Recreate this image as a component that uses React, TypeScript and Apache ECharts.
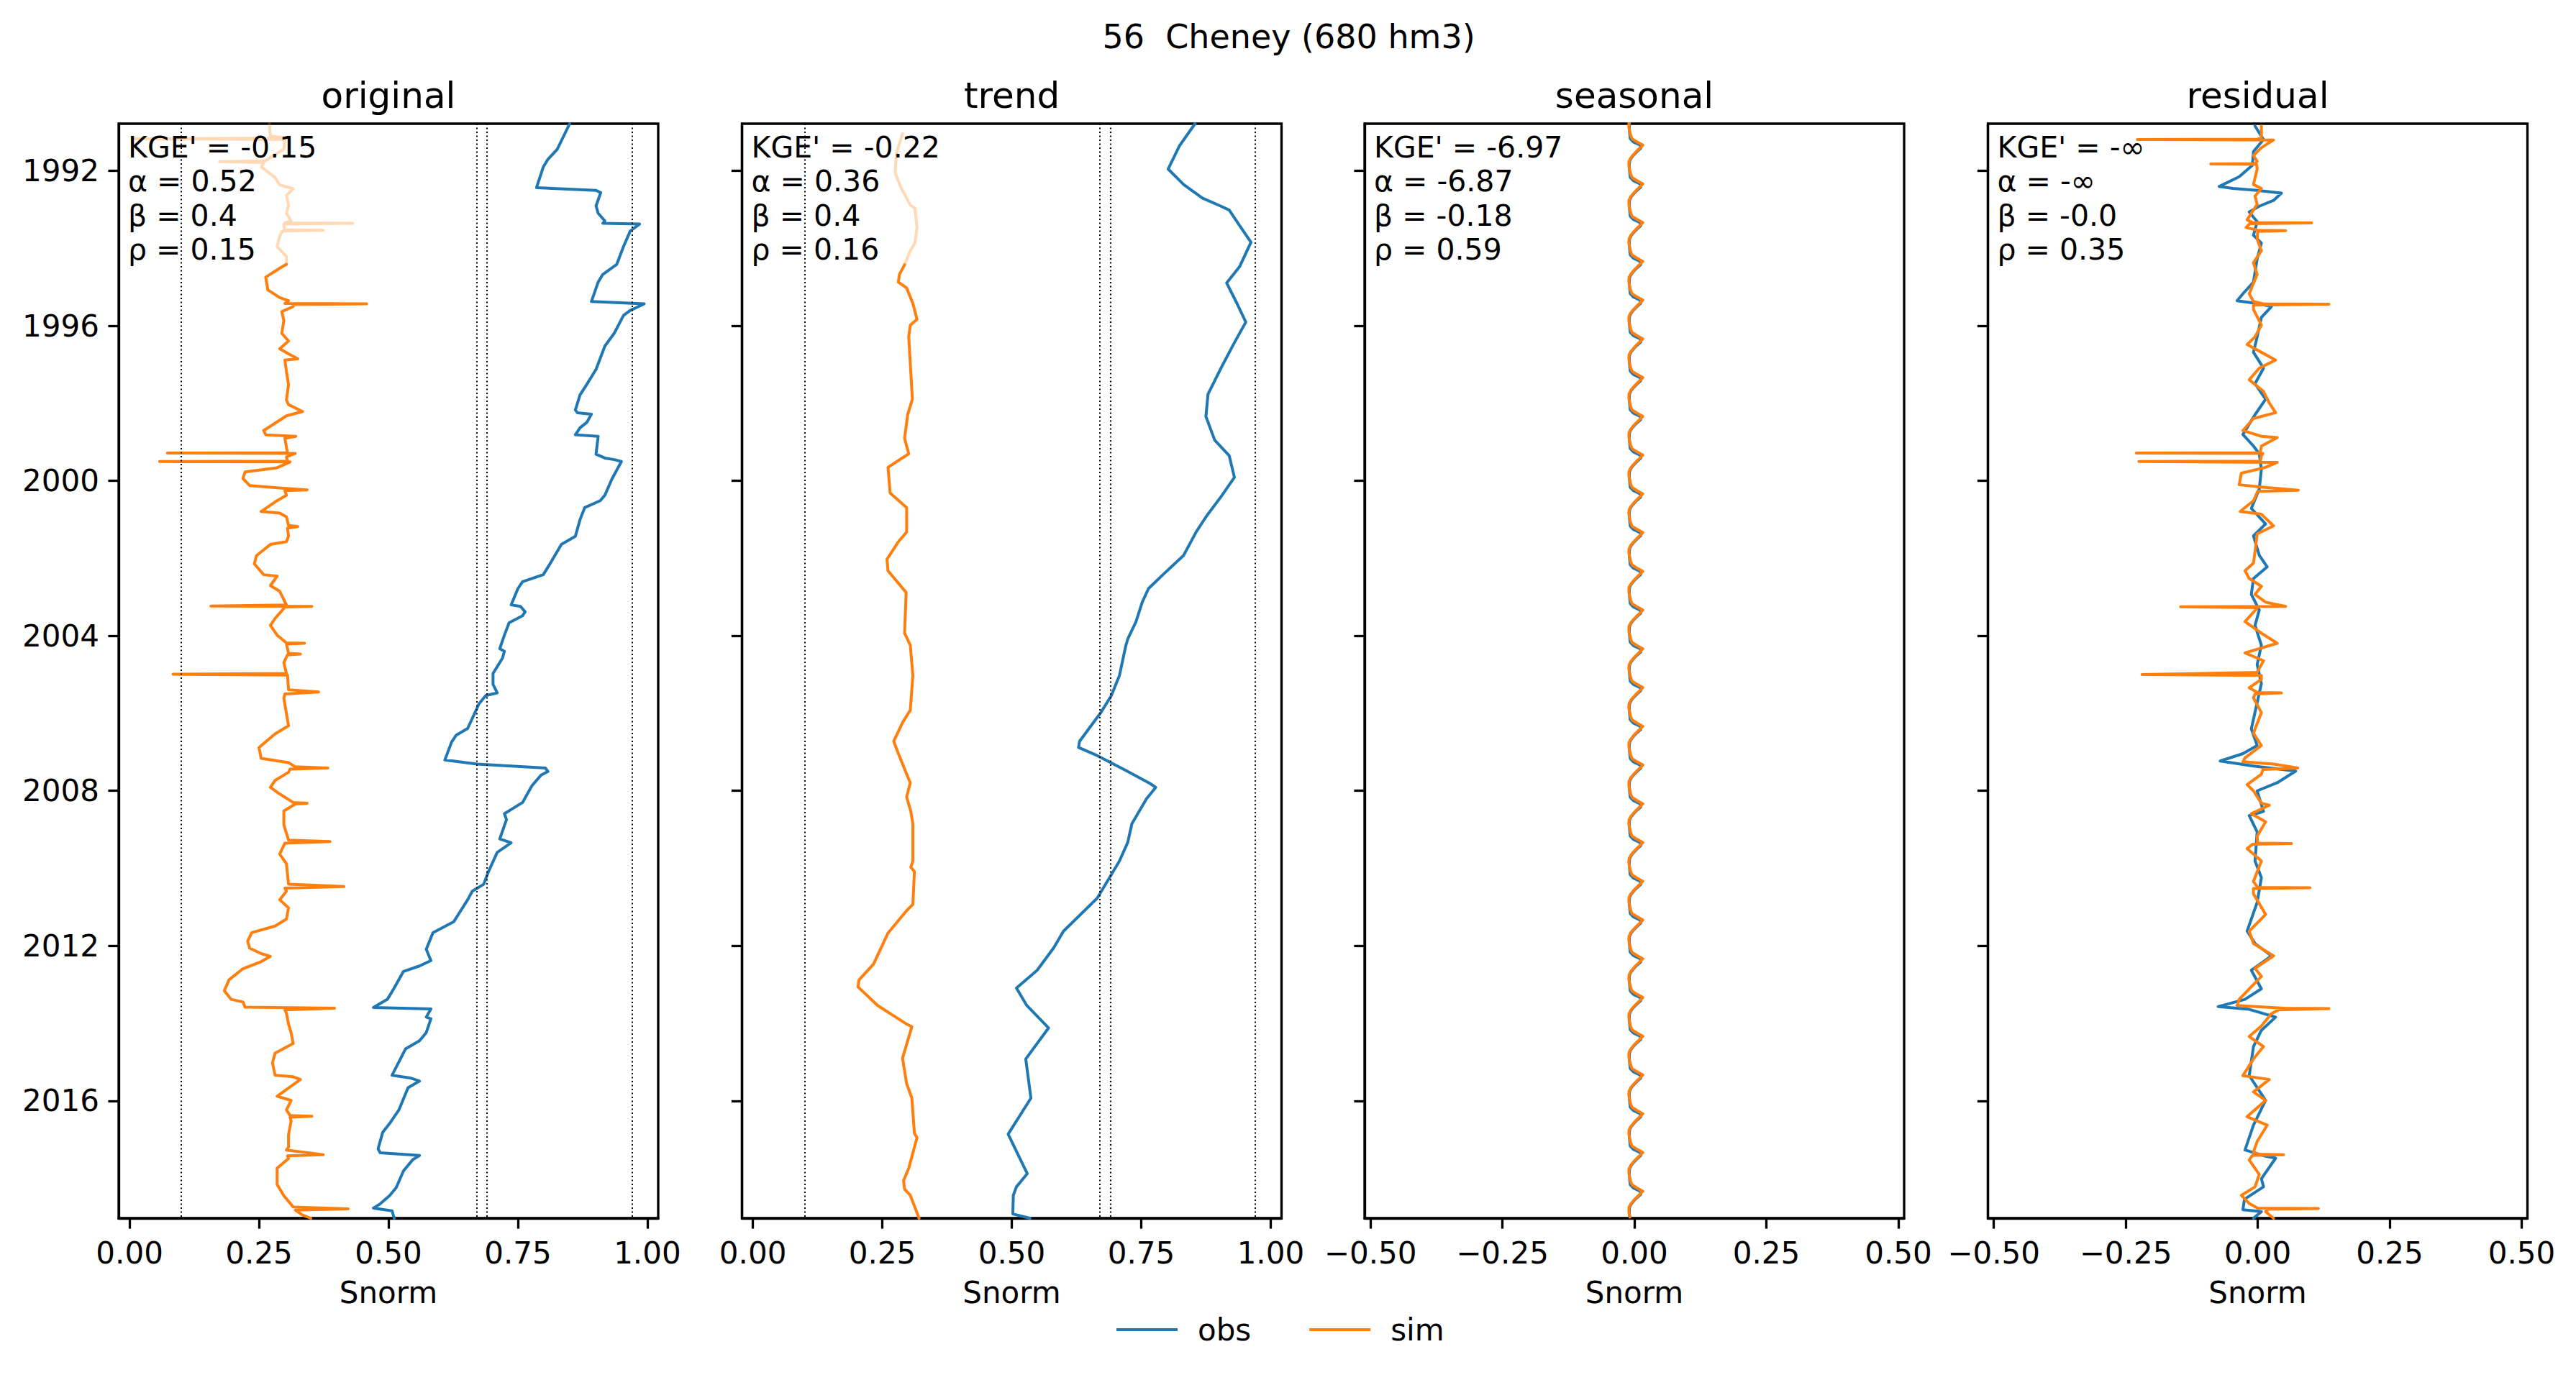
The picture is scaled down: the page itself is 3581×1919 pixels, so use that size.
import { useEffect, useRef } from "react";
import * as echarts from "echarts";

const FONT = "DejaVu Sans";
const BLUE = "#1f77b4";
const ORANGE = "#ff7f0e";

const suptitle = "56  Cheney (680 hm3)";
const panelTitles = ["original", "trend", "seasonal", "residual"];
const panelStats = [
  ["KGE' = -0.15", "α = 0.52", "β = 0.4", "ρ = 0.15"],
  ["KGE' = -0.22", "α = 0.36", "β = 0.4", "ρ = 0.16"],
  ["KGE' = -6.97", "α = -6.87", "β = -0.18", "ρ = 0.59"],
  ["KGE' = -∞", "α = -∞", "β = -0.0", "ρ = 0.35"],
];
const yearTicks = [1992, 1996, 2000, 2004, 2008, 2012, 2016];
const snormTicks = [0, 0.25, 0.5, 0.75, 1];
const anomalyTicks = [-0.5, -0.25, 0, 0.25, 0.5];
// storage zone limits shown as dotted lines in original / trend
const thresholds = [0.1, 0.669, 0.692, 0.969];

// [decimal year, Snorm]
const origObs = [
  [1990.78, 0.85], [1991.44, 0.826], [1991.7, 0.808], [1991.9, 0.799], [1992.43, 0.786],
  [1992.5, 0.901], [1992.56, 0.91], [1992.9, 0.901], [1993.09, 0.905], [1993.29, 0.918],
  [1993.35, 0.914], [1993.37, 0.985], [1993.55, 0.967], [1993.95, 0.954], [1994.41, 0.941],
  [1994.67, 0.914], [1994.87, 0.905], [1995.37, 0.892], [1995.43, 0.994], [1995.6, 0.967],
  [1995.73, 0.954], [1996.19, 0.936], [1996.52, 0.918], [1997.12, 0.901], [1997.51, 0.883],
  [1997.78, 0.87], [1998.17, 0.861], [1998.24, 0.865], [1998.28, 0.892], [1998.49, 0.883],
  [1998.63, 0.87], [1998.81, 0.861], [1998.85, 0.905], [1999.31, 0.901], [1999.41, 0.918],
  [1999.45, 0.936], [1999.5, 0.95], [1999.94, 0.932], [2000.37, 0.918], [2000.51, 0.909],
  [2000.69, 0.879], [2001.0, 0.87], [2001.43, 0.861], [2001.64, 0.834], [2002.14, 0.812],
  [2002.42, 0.799], [2002.6, 0.759], [2002.78, 0.75], [2003.2, 0.737], [2003.24, 0.755],
  [2003.38, 0.764], [2003.48, 0.759], [2003.66, 0.733], [2003.98, 0.724], [2004.33, 0.715],
  [2004.4, 0.724], [2004.58, 0.72], [2004.97, 0.702], [2005.25, 0.702], [2005.47, 0.71],
  [2005.54, 0.688], [2005.75, 0.675], [2006.39, 0.653], [2006.56, 0.631], [2006.74, 0.622],
  [2007.2, 0.609], [2007.31, 0.671], [2007.41, 0.803], [2007.5, 0.808], [2007.59, 0.795],
  [2007.87, 0.777], [2008.3, 0.759], [2008.59, 0.724], [2008.74, 0.728], [2009.24, 0.715],
  [2009.34, 0.737], [2009.59, 0.71], [2010.09, 0.693], [2010.41, 0.684], [2010.59, 0.662],
  [2010.81, 0.653], [2011.38, 0.626], [2011.66, 0.586], [2012.09, 0.573], [2012.38, 0.582],
  [2012.52, 0.56], [2012.66, 0.529], [2013.09, 0.511], [2013.38, 0.498], [2013.59, 0.471],
  [2013.63, 0.582], [2013.84, 0.573], [2013.88, 0.582], [2014.24, 0.573], [2014.45, 0.56],
  [2014.66, 0.533], [2015.34, 0.507], [2015.41, 0.542], [2015.49, 0.56], [2015.66, 0.538],
  [2015.95, 0.529], [2016.24, 0.52], [2016.59, 0.502], [2016.81, 0.489], [2017.24, 0.48],
  [2017.34, 0.484], [2017.41, 0.56], [2017.52, 0.547], [2017.81, 0.529], [2018.24, 0.515],
  [2018.45, 0.502], [2018.66, 0.484], [2018.77, 0.471], [2018.84, 0.507], [2019.03, 0.511],
];

// warm-up period, drawn faded
const origSimWarmup = [
  [1990.78, 0.27], [1991.1, 0.272], [1991.15, 0.307], [1991.17, 0.006], [1991.19, 0.3],
  [1991.44, 0.298], [1991.74, 0.262], [1991.76, 0.174], [1991.78, 0.259], [1991.9, 0.255],
  [1992.17, 0.281], [1992.36, 0.29], [1992.46, 0.316], [1992.63, 0.303], [1992.89, 0.307],
  [1993.09, 0.303], [1993.29, 0.312], [1993.34, 0.3], [1993.35, 0.431], [1993.37, 0.298],
  [1993.42, 0.298], [1993.52, 0.3], [1993.53, 0.374], [1993.55, 0.295], [1993.68, 0.29],
  [1993.95, 0.285], [1994.21, 0.303], [1994.41, 0.303],
];

const origSim = [
  [1994.41, 0.303], [1994.51, 0.29], [1994.74, 0.263], [1995.07, 0.267], [1995.27, 0.29],
  [1995.35, 0.307], [1995.42, 0.3], [1995.43, 0.458], [1995.45, 0.316], [1995.5, 0.316],
  [1995.63, 0.294], [1995.86, 0.298], [1996.19, 0.294], [1996.39, 0.307], [1996.59, 0.29],
  [1996.72, 0.307], [1996.85, 0.325], [1996.88, 0.3], [1997.18, 0.303], [1997.51, 0.307],
  [1997.91, 0.303], [1998.03, 0.307], [1998.21, 0.334], [1998.32, 0.303], [1998.7, 0.259],
  [1998.81, 0.263], [1998.85, 0.321], [1998.9, 0.3], [1999.13, 0.303], [1999.27, 0.305],
  [1999.28, 0.073], [1999.29, 0.32], [1999.38, 0.303], [1999.49, 0.305], [1999.5, 0.058],
  [1999.51, 0.31], [1999.66, 0.285], [1999.77, 0.223], [1999.94, 0.219], [2000.12, 0.232],
  [2000.19, 0.298], [2000.23, 0.343], [2000.25, 0.3], [2000.37, 0.303], [2000.51, 0.285],
  [2000.79, 0.254], [2000.83, 0.29], [2000.93, 0.303], [2001.15, 0.307], [2001.18, 0.325],
  [2001.22, 0.305], [2001.43, 0.307], [2001.57, 0.303], [2001.64, 0.272], [2001.93, 0.245],
  [2002.14, 0.241], [2002.42, 0.259], [2002.46, 0.285], [2002.7, 0.272], [2002.85, 0.29],
  [2003.2, 0.303], [2003.23, 0.157], [2003.24, 0.352], [2003.26, 0.3], [2003.55, 0.281],
  [2003.73, 0.272], [2003.98, 0.285], [2004.18, 0.303], [2004.19, 0.338], [2004.21, 0.303],
  [2004.45, 0.307], [2004.47, 0.33], [2004.49, 0.305], [2004.69, 0.298], [2004.97, 0.303],
  [2004.99, 0.084], [2005.01, 0.305], [2005.39, 0.307], [2005.45, 0.365], [2005.5, 0.3],
  [2005.61, 0.298], [2006.32, 0.307], [2006.53, 0.281], [2006.88, 0.25], [2007.16, 0.254],
  [2007.27, 0.307], [2007.38, 0.32], [2007.41, 0.383], [2007.44, 0.31], [2007.52, 0.307],
  [2007.73, 0.281], [2007.91, 0.272], [2008.08, 0.29], [2008.3, 0.316], [2008.32, 0.343],
  [2008.34, 0.32], [2008.52, 0.298], [2008.88, 0.298], [2009.27, 0.307], [2009.31, 0.387],
  [2009.35, 0.3], [2009.63, 0.29], [2009.88, 0.303], [2010.41, 0.307], [2010.47, 0.414],
  [2010.51, 0.3], [2010.59, 0.303], [2010.81, 0.29], [2011.02, 0.307], [2011.31, 0.303],
  [2011.49, 0.281], [2011.66, 0.236], [2011.88, 0.228], [2012.06, 0.232], [2012.2, 0.254],
  [2012.27, 0.272], [2012.41, 0.254], [2012.59, 0.219], [2012.88, 0.192], [2013.16, 0.183],
  [2013.38, 0.196], [2013.45, 0.219], [2013.58, 0.223], [2013.61, 0.396], [2013.65, 0.3],
  [2013.74, 0.303], [2014.02, 0.307], [2014.24, 0.312], [2014.52, 0.316], [2014.77, 0.281],
  [2015.02, 0.276], [2015.34, 0.281], [2015.38, 0.316], [2015.45, 0.33], [2015.88, 0.285],
  [2015.99, 0.312], [2016.24, 0.303], [2016.38, 0.31], [2016.4, 0.352], [2016.42, 0.31],
  [2016.52, 0.312], [2016.88, 0.307], [2017.2, 0.307], [2017.27, 0.303], [2017.39, 0.374],
  [2017.42, 0.305], [2017.49, 0.307], [2017.74, 0.285], [2018.16, 0.285], [2018.45, 0.298],
  [2018.74, 0.316], [2018.79, 0.422], [2018.82, 0.32], [2018.95, 0.334], [2019.03, 0.35],
];

const trendObs = [
  [1990.78, 0.854], [1991.35, 0.824], [1991.95, 0.802], [1992.35, 0.832], [1992.7, 0.868],
  [1992.91, 0.904], [1993.01, 0.92], [1993.41, 0.94], [1993.84, 0.962], [1994.47, 0.94],
  [1994.89, 0.915], [1995.42, 0.935], [1995.9, 0.952], [1996.48, 0.928], [1997.09, 0.904],
  [1997.76, 0.879], [1998.34, 0.875], [1998.95, 0.892], [1999.35, 0.92], [1999.91, 0.93],
  [2000.41, 0.904], [2000.91, 0.876], [2001.32, 0.856], [2001.92, 0.832], [2002.42, 0.792],
  [2002.78, 0.764], [2003.13, 0.752], [2003.63, 0.74], [2004.08, 0.724], [2004.27, 0.72],
  [2005.02, 0.708], [2005.55, 0.692], [2005.98, 0.672], [2006.72, 0.631], [2006.88, 0.629],
  [2007.09, 0.665], [2007.47, 0.72], [2007.81, 0.767], [2007.91, 0.778], [2008.21, 0.76],
  [2008.85, 0.732], [2009.33, 0.724], [2009.81, 0.708], [2010.08, 0.696], [2010.77, 0.665],
  [2010.98, 0.649], [2011.62, 0.6], [2012.05, 0.581], [2012.63, 0.549], [2013.09, 0.509],
  [2013.54, 0.529], [2014.12, 0.571], [2014.92, 0.527], [2015.93, 0.537], [2016.86, 0.493],
  [2017.88, 0.53], [2018.22, 0.509], [2018.44, 0.503], [2018.92, 0.502], [2019.03, 0.535],
];

const trendSimWarmup = [
  [1991.04, 0.289], [1991.55, 0.277], [1992.05, 0.275], [1992.4, 0.285], [1992.88, 0.304],
  [1992.96, 0.313], [1993.46, 0.317], [1993.86, 0.313], [1994.06, 0.304], [1994.42, 0.293],
];

const trendSim = [
  [1994.42, 0.293], [1994.67, 0.283], [1994.87, 0.281], [1995.02, 0.297], [1995.42, 0.309],
  [1995.83, 0.317], [1995.98, 0.304], [1996.28, 0.301], [1997.19, 0.305], [1997.89, 0.308],
  [1998.29, 0.299], [1998.9, 0.293], [1999.3, 0.301], [1999.65, 0.261], [2000.31, 0.265],
  [2000.69, 0.297], [2001.32, 0.297], [2001.57, 0.281], [2002.02, 0.259], [2002.32, 0.261],
  [2002.88, 0.296], [2003.93, 0.293], [2004.24, 0.304], [2005.02, 0.309], [2005.92, 0.304],
  [2006.24, 0.289], [2006.72, 0.272], [2007.04, 0.281], [2007.57, 0.297], [2007.79, 0.304],
  [2008.16, 0.297], [2008.53, 0.305], [2008.85, 0.309], [2009.81, 0.309], [2009.97, 0.305],
  [2010.08, 0.312], [2010.93, 0.309], [2011.09, 0.297], [2011.67, 0.261], [2012.47, 0.233],
  [2012.88, 0.205], [2013.06, 0.203], [2013.54, 0.241], [2014.02, 0.297], [2014.09, 0.307],
  [2014.9, 0.289], [2015.56, 0.297], [2015.93, 0.307], [2016.84, 0.312], [2016.95, 0.317],
  [2017.74, 0.301], [2018.06, 0.291], [2018.28, 0.293], [2018.44, 0.304], [2019.03, 0.321],
];

// seasonal component, one value per month (Jan..Dec), repeats every year
const seasonalObsMonthly = [-0.009, -0.0085, -0.0078, -0.002, 0.011, 0.012, 0.005, -0.001, -0.006, -0.009, -0.0095, -0.0095];
const seasonalSimMonthly = [-0.0083, -0.007, -0.0045, 0.005, 0.016, 0.01, 0.0037, -0.002, -0.007, -0.01, -0.0105, -0.0098];
const seasonalFirstYear = 1990;
const seasonalFirstMonth = 9; // October
const seasonalLastYear = 2018;

const residObs = [
  [1990.84, -0.005], [1991.19, 0.011], [1991.5, -0.008], [1991.85, -0.01], [1992.15, -0.035],
  [1992.4, -0.073], [1992.45, -0.047], [1992.5, -0.001], [1992.57, 0.045], [1992.76, 0.03],
  [1992.91, 0.003], [1993.06, -0.016], [1993.31, -0.001], [1993.66, -0.008], [1993.86, 0.007],
  [1994.27, -0.001], [1994.87, -0.008], [1995.17, -0.028], [1995.35, -0.039], [1995.42, -0.001],
  [1995.5, 0.026], [1995.78, 0.007], [1996.28, -0.001], [1996.68, -0.008], [1997.09, 0.011],
  [1997.49, -0.005], [1997.89, 0.015], [1998.29, -0.005], [1998.8, -0.028], [1999.1, -0.008],
  [1999.3, 0.003], [1999.7, 0.007], [2000.21, 0.003], [2000.71, -0.012], [2001.11, 0.015],
  [2001.42, -0.008], [2001.92, 0.003], [2002.22, 0.018], [2002.52, -0.008], [2002.93, -0.012],
  [2003.33, 0.003], [2003.73, -0.005], [2004.24, 0.007], [2004.74, -0.001], [2005.23, 0.007],
  [2006.4, -0.012], [2006.83, -0.001], [2007.04, -0.028], [2007.23, -0.071], [2007.36, -0.008],
  [2007.49, 0.072], [2007.79, 0.037], [2008.0, -0.001], [2008.53, 0.011], [2008.64, -0.016],
  [2009.06, -0.001], [2009.81, -0.005], [2010.24, 0.007], [2010.88, -0.001], [2011.62, -0.02],
  [2011.94, -0.005], [2012.26, 0.026], [2012.63, -0.012], [2013.11, 0.007], [2013.38, -0.024],
  [2013.57, -0.075], [2013.64, -0.016], [2013.84, 0.034], [2014.18, 0.007], [2014.6, -0.008],
  [2015.35, -0.016], [2015.99, 0.015], [2016.63, -0.008], [2017.27, -0.024], [2017.43, 0.015],
  [2017.48, 0.034], [2018.01, 0.007], [2018.22, 0.011], [2018.54, -0.025], [2018.81, -0.028],
  [2018.86, 0.007], [2019.03, -0.008],
];

const residSim = [
  [1990.84, 0.007], [1991.14, 0.007], [1991.18, 0.0], [1991.19, -0.228], [1991.2, 0.03],
  [1991.4, 0.007], [1991.6, -0.008], [1991.75, -0.001], [1991.81, -0.005], [1991.82, -0.089],
  [1991.83, -0.002], [1991.95, -0.001], [1992.35, -0.008], [1992.45, 0.007], [1992.65, -0.005],
  [1992.86, -0.001], [1993.26, -0.02], [1993.33, -0.01], [1993.34, 0.102], [1993.36, -0.015],
  [1993.46, -0.022], [1993.53, 0.0], [1993.54, 0.053], [1993.56, 0.0], [1993.76, -0.001],
  [1994.06, 0.007], [1994.37, -0.008], [1994.67, -0.001], [1995.17, -0.016], [1995.37, -0.008],
  [1995.43, 0.01], [1995.44, 0.135], [1995.46, -0.008], [1995.57, -0.008], [1995.98, 0.007],
  [1996.28, -0.005], [1996.48, -0.02], [1996.68, 0.007], [1996.88, 0.034], [1997.09, 0.003],
  [1997.39, -0.016], [1997.69, 0.011], [1997.99, 0.022], [1998.24, 0.034], [1998.39, -0.008],
  [1998.7, -0.028], [1998.85, 0.007], [1998.88, 0.037], [1999.1, 0.007], [1999.27, 0.005],
  [1999.28, -0.23], [1999.29, 0.01], [1999.35, 0.007], [1999.49, 0.005], [1999.5, -0.225],
  [1999.52, 0.037], [1999.65, 0.015], [1999.8, -0.031], [2000.1, -0.035], [2000.16, 0.007],
  [2000.24, 0.077], [2000.27, 0.0], [2000.51, -0.008], [2000.79, -0.033], [2000.86, 0.007],
  [2001.16, 0.03], [2001.37, -0.001], [2001.82, -0.005], [2002.12, -0.008], [2002.32, -0.024],
  [2002.52, -0.016], [2002.72, 0.007], [2002.93, -0.005], [2003.13, 0.015], [2003.24, 0.053],
  [2003.25, -0.146], [2003.27, 0.0], [2003.63, -0.024], [2003.93, 0.007], [2004.19, 0.037],
  [2004.44, -0.024], [2004.64, 0.011], [2004.94, -0.001], [2005.0, -0.219], [2005.02, 0.007],
  [2005.12, 0.007], [2005.34, -0.016], [2005.46, 0.0], [2005.47, 0.045], [2005.5, -0.005],
  [2005.6, -0.008], [2005.98, 0.007], [2006.51, -0.008], [2006.83, 0.007], [2007.15, -0.024],
  [2007.25, -0.028], [2007.31, 0.03], [2007.41, 0.076], [2007.45, 0.01], [2007.57, 0.007],
  [2007.84, -0.02], [2008.0, -0.008], [2008.32, 0.007], [2008.37, 0.022], [2008.59, -0.012],
  [2008.8, 0.015], [2009.17, -0.001], [2009.35, 0.0], [2009.36, 0.064], [2009.38, -0.01],
  [2009.49, -0.02], [2009.81, 0.007], [2010.34, -0.008], [2010.49, 0.0], [2010.5, 0.099],
  [2010.52, -0.008], [2010.66, -0.008], [2011.19, 0.015], [2011.62, -0.016], [2011.94, -0.008],
  [2012.26, 0.03], [2012.58, -0.005], [2012.79, 0.007], [2013.11, -0.016], [2013.38, -0.035],
  [2013.54, -0.039], [2013.61, 0.05], [2013.62, 0.135], [2013.65, 0.04], [2013.75, 0.026],
  [2014.07, 0.007], [2014.34, -0.016], [2014.6, 0.011], [2014.92, -0.008], [2015.35, -0.028],
  [2015.45, 0.022], [2015.77, -0.008], [2015.99, 0.015], [2016.41, -0.02], [2016.63, 0.018],
  [2017.05, -0.001], [2017.32, -0.008], [2017.38, 0.0], [2017.39, 0.049], [2017.41, -0.01],
  [2017.53, -0.016], [2017.9, 0.003], [2018.22, -0.005], [2018.44, -0.031], [2018.65, -0.016],
  [2018.77, 0.0], [2018.78, 0.115], [2018.8, 0.02], [2018.86, 0.015], [2019.03, 0.03],
];

// layout (px)
const GRID_LEFTS = [165, 1031.5, 1897, 2763.5];
const GRID_TOP = 172;
const GRID_W = 750;
const GRID_H = 1522;
const X_RANGES = [[-0.021, 1.021], [-0.021, 1.021], [-0.511, 0.511], [-0.511, 0.511]];
const Y_MIN = 1990.78;
const Y_MAX = 2019.03;
const LINE_W = 4;

const tileSeasonal = (monthly: number[]) => {
  const pts: number[][] = [];
  for (let y = seasonalFirstYear; y <= seasonalLastYear; y++) {
    for (let m = 0; m < 12; m++) {
      if (y === seasonalFirstYear && m < seasonalFirstMonth) continue;
      pts.push([y + m / 12, monthly[m]]);
    }
  }
  pts.push([seasonalLastYear + 1, monthly[0]]);
  return pts;
};

const fmtTick = (v: number) => v.toFixed(2).replace("-", "\u2212");

const lineSeries = (name: string, data: number[][], panel: number, color: string, opacity = 1, extra = {}) => ({
  type: "line",
  name,
  data: data.map(([t, v]) => [v, t]),
  xAxisIndex: panel,
  yAxisIndex: panel,
  color,
  symbol: "none",
  showSymbol: false,
  clip: true,
  lineStyle: { color, width: LINE_W, opacity, join: "round", cap: "round" },
  emphasis: { disabled: true },
  ...extra,
});

const thresholdLines = {
  silent: true,
  symbol: ["none", "none"],
  label: { show: false },
  lineStyle: { color: "#000", width: 2, type: [2, 3.5], opacity: 1 },
  emphasis: { disabled: true },
  data: thresholds.map((x) => ({ xAxis: x })),
};

const buildOption = () => {
  const grid = GRID_LEFTS.map((left) => ({
    left,
    top: GRID_TOP,
    width: GRID_W,
    height: GRID_H,
    show: true,
    borderColor: "#000",
    borderWidth: 3.3,
    backgroundColor: "transparent",
    outerBoundsMode: "none",
  }));

  const xAxis = X_RANGES.map(([min, max], i) => {
    const ticks = i < 2 ? snormTicks : anomalyTicks;
    return {
      type: "value",
      gridIndex: i,
      position: "bottom",
      min,
      max,
      name: "Snorm",
      nameLocation: "middle",
      nameGap: 82,
      nameTextStyle: { fontFamily: FONT, fontSize: 42, color: "#000" },
      axisLine: { show: true, onZero: false, lineStyle: { color: "#000", width: 3.3 } },
      axisTick: { show: true, length: 14.6, lineStyle: { color: "#000", width: 3.3 }, customValues: ticks },
      axisLabel: {
        show: true,
        margin: 27,
        fontFamily: FONT,
        fontSize: 42,
        color: "#000",
        customValues: ticks,
        formatter: fmtTick,
      },
      splitLine: { show: false },
    };
  });

  const yAxis = GRID_LEFTS.map((_, i) => ({
    type: "value",
    gridIndex: i,
    position: "left",
    min: Y_MIN,
    max: Y_MAX,
    inverse: true,
    axisLine: { show: true, onZero: false, lineStyle: { color: "#000", width: 3.3 } },
    axisTick: { show: true, length: 14.6, lineStyle: { color: "#000", width: 3.3 }, customValues: yearTicks },
    axisLabel: {
      show: i === 0,
      margin: 27,
      fontFamily: FONT,
      fontSize: 42,
      color: "#000",
      customValues: yearTicks,
      formatter: (v: number) => String(v),
    },
    splitLine: { show: false },
  }));

  const series = [
    lineSeries("obs", origObs, 0, BLUE, 1, { markLine: thresholdLines }),
    lineSeries("sim warm-up", origSimWarmup, 0, ORANGE, 0.3),
    lineSeries("sim", origSim, 0, ORANGE),
    lineSeries("obs", trendObs, 1, BLUE, 1, { markLine: thresholdLines }),
    lineSeries("sim warm-up", trendSimWarmup, 1, ORANGE, 0.3),
    lineSeries("sim", trendSim, 1, ORANGE),
    lineSeries("obs", tileSeasonal(seasonalObsMonthly), 2, BLUE),
    lineSeries("sim", tileSeasonal(seasonalSimMonthly), 2, ORANGE),
    lineSeries("obs", residObs, 3, BLUE),
    lineSeries("sim", residSim, 3, ORANGE),
  ];

  const graphic: any[] = [
    {
      type: "text",
      x: 1791.5,
      y: 51,
      z: 100,
      style: { text: suptitle, fontFamily: FONT, fontSize: 46, fill: "#000", align: "center", verticalAlign: "middle" },
    },
  ];
  GRID_LEFTS.forEach((left, i) => {
    graphic.push({
      type: "text",
      x: left + GRID_W / 2,
      y: 133,
      z: 100,
      style: { text: panelTitles[i], fontFamily: FONT, fontSize: 50, fill: "#000", align: "center", verticalAlign: "middle" },
    });
    graphic.push({
      type: "text",
      x: left + 13,
      y: 181,
      z: 100,
      style: {
        text: panelStats[i].join("\n"),
        fontFamily: FONT,
        fontSize: 41,
        lineHeight: 47.5,
        fill: "#000",
        align: "left",
        verticalAlign: "top",
      },
    });
  });

  return {
    animation: false,
    backgroundColor: "#fff",
    textStyle: { fontFamily: FONT },
    grid,
    xAxis,
    yAxis,
    series,
    graphic,
    legend: {
      data: ["obs", "sim"],
      left: 1552,
      top: 1828,
      padding: 0,
      orient: "horizontal",
      icon: "rect",
      itemWidth: 85,
      itemHeight: 3.8,
      itemGap: 81,
      selectedMode: false,
      textStyle: { fontFamily: FONT, fontSize: 42, color: "#000", padding: [0, 0, 0, 23] },
    },
  };
};

export default function App() {
  const chartRef = useRef<HTMLDivElement>(null);

  useEffect(() => {
    document.body.style.margin = "0";
    if (!chartRef.current) return;
    const chart = echarts.init(chartRef.current, null, { renderer: "svg" });
    chart.setOption(buildOption() as any);
    return () => {
      chart.dispose();
    };
  }, []);

  return <div ref={chartRef} style={{ width: 3581, height: 1919 }} />;
}
